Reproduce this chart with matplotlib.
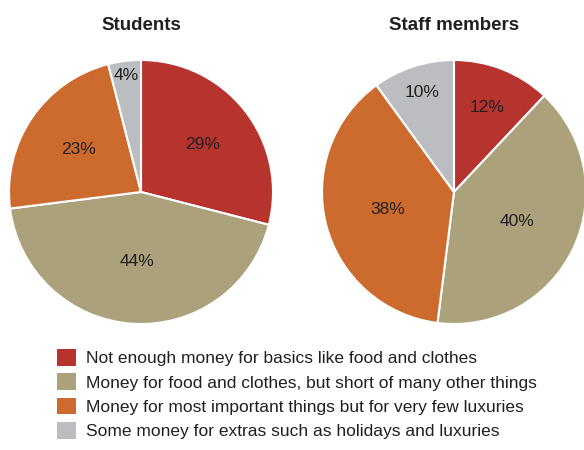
import matplotlib.pyplot as plt
from matplotlib.patches import Patch
import numpy as np

# categories and values
categories = [
    "Not enough money for basics like food and clothes",
    "Money for food and clothes, but short of many other things",
    "Money for most important things but for very few luxuries",
    "Some money for extras such as holidays and luxuries",
]
students = [29, 44, 23, 4]
staff = [12, 40, 38, 10]
titles = ["Students", "Staff members"]

colors = ["#b7332d", "#aba27c", "#cd6b2f", "#bcbdc1"]
txt_color = "#231f20"
sans = ["Liberation Sans", "DejaVu Sans"]

W, H = 584, 450
fig = plt.figure(figsize=(W / 100, H / 100), dpi=100)

def pie_axes(cx, cy, r):
    return fig.add_axes([(cx - r) / W, (H - cy - r) / H, 2 * r / W, 2 * r / H])

# label distance per slice (fraction of radius)
dists = [[0.59, 0.53, 0.57, 0.89], [0.69, 0.53, 0.52, 0.79]]

for i, (vals, title, cx) in enumerate(zip([students, staff], titles, [141, 454])):
    ax = pie_axes(cx, 192, 132)
    wedges, _ = ax.pie(vals, colors=colors, startangle=90, counterclock=False,
                       radius=1, wedgeprops=dict(edgecolor="white", linewidth=1.5))
    ax.set_xlim(-1, 1)
    ax.set_ylim(-1, 1)
    ax.set_aspect("auto")
    ax.axis("off")
    for w, v, d in zip(wedges, vals, dists[i]):
        ang = np.deg2rad((w.theta1 + w.theta2) / 2)
        ax.text(d * np.cos(ang), d * np.sin(ang), f"{v}%", ha="center", va="center",
                fontsize=12.5, family=sans, color=txt_color)
    fig.text(cx / W, 1 - 25 / H, title, ha="center", va="center",
             fontsize=13.5, fontweight="bold", family=sans, color=txt_color)

handles = [Patch(facecolor=c, edgecolor="none") for c in colors]
fig.legend(handles, categories, loc="upper left", bbox_to_anchor=(57 / W, 1 - 349 / H),
           frameon=False, prop=dict(family=sans, size=12.5),
           handlelength=1.1, handleheight=1.1, handletextpad=0.55, labelspacing=0.41,
           borderaxespad=0, borderpad=0, labelcolor=txt_color)

fig.savefig("out.png", dpi=100)
